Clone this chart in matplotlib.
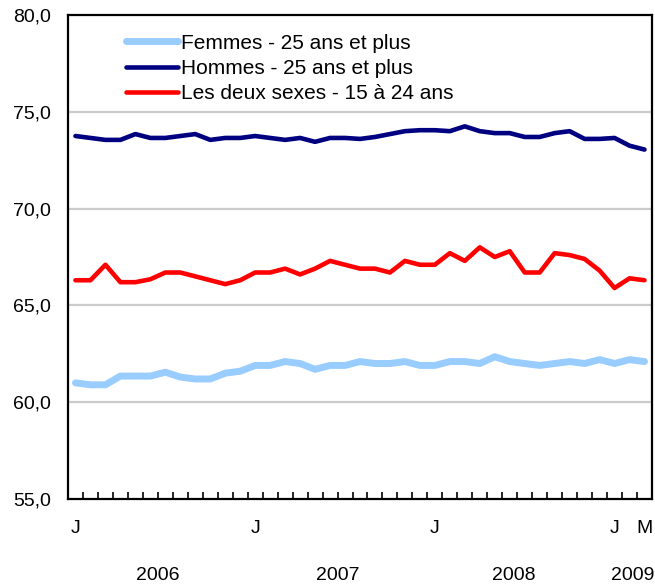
"""
Taux d'activite mensuel, janvier 2006 a mars 2009
"""
import numpy as np
import matplotlib
matplotlib.use("Agg")
import matplotlib.pyplot as plt
import matplotlib.transforms as mtransforms

plt.rcParams["font.family"] = ["Liberation Sans", "DejaVu Sans"]

# data: Jan 2006 .. Mar 2009 (39 months)
femmes = [61.0, 60.9, 60.9, 61.35, 61.35, 61.35, 61.55, 61.3, 61.2, 61.2,
          61.5, 61.6, 61.9, 61.9, 62.1, 62.0, 61.7, 61.9, 61.9, 62.1,
          62.0, 62.0, 62.1, 61.9, 61.9, 62.1, 62.1, 62.0, 62.35, 62.1,
          62.0, 61.9, 62.0, 62.1, 62.0, 62.2, 62.0, 62.2, 62.1]
hommes = [73.75, 73.65, 73.55, 73.55, 73.85, 73.65, 73.65, 73.75, 73.85, 73.55,
          73.65, 73.65, 73.75, 73.65, 73.55, 73.65, 73.45, 73.65, 73.65, 73.6,
          73.7, 73.85, 74.0, 74.05, 74.05, 74.0, 74.25, 74.0, 73.9, 73.9,
          73.7, 73.7, 73.9, 74.0, 73.6, 73.6, 73.65, 73.25, 73.05]
jeunes = [66.3, 66.3, 67.1, 66.2, 66.2, 66.35, 66.7, 66.7, 66.5, 66.3,
          66.1, 66.3, 66.7, 66.7, 66.9, 66.6, 66.9, 67.3, 67.1, 66.9,
          66.9, 66.7, 67.3, 67.1, 67.1, 67.7, 67.3, 68.0, 67.5, 67.8,
          66.7, 66.7, 67.7, 67.6, 67.4, 66.8, 65.9, 66.4, 66.3]
labels = ["Femmes - 25 ans et plus", "Hommes - 25 ans et plus",
          "Les deux sexes - 15 à 24 ans"]
month_ticks = [0, 12, 24, 36, 38]
month_labels = ["J", "J", "J", "J", "M"]
years = ["2006", "2007", "2008", "2009"]
year_pos = [5.5, 17.5, 29.3, 37.2]

fig = plt.figure(figsize=(6.55, 5.84), dpi=100)
ax = fig.add_axes([0.1038, 0.1455, 0.8916, 0.8288])

x = np.arange(len(femmes))
ax.plot(x, femmes, color="#99CCFF", lw=5.0, label=labels[0], solid_capstyle="round")
ax.plot(x, hommes, color="#000080", lw=3.3, label=labels[1], solid_capstyle="round")
ax.plot(x, jeunes, color="#FF0000", lw=3.3, label=labels[2], solid_capstyle="round")

ax.set_ylim(55, 80)
ax.set_xlim(-0.5, len(femmes) - 0.5)
ax.set_yticks([55, 60, 65, 70, 75, 80])
ax.set_yticklabels(["55,0", "60,0", "65,0", "70,0", "75,0", "80,0"], fontsize=14)
ax.tick_params(axis="y", length=0, pad=12)
for v in [60, 65, 70, 75]:
    ax.axhline(v, color="#CCCCCC", lw=1.6, zorder=0)

ax.set_xticks(month_ticks)
ax.set_xticklabels(month_labels, fontsize=14)
ax.tick_params(axis="x", which="major", length=0, pad=15)
ax.set_xticks(np.arange(-0.5, len(femmes) + 0.5, 1), minor=True)
ax.tick_params(axis="x", which="minor", direction="in", length=5, width=1.2)

trans = mtransforms.blended_transform_factory(ax.transData, fig.transFigure)
for yr, p in zip(years, year_pos):
    fig.text(p, 0.0, yr, transform=trans, ha="center", va="bottom", fontsize=14)

for s in ax.spines.values():
    s.set_linewidth(1.6)
    s.set_color("black")

leg = ax.legend(loc="upper left", bbox_to_anchor=(0.067, 1.0), frameon=False,
                fontsize=15, handlelength=2.5, handletextpad=0.15, labelspacing=0.3)

plt.savefig("out.png", dpi=100)
